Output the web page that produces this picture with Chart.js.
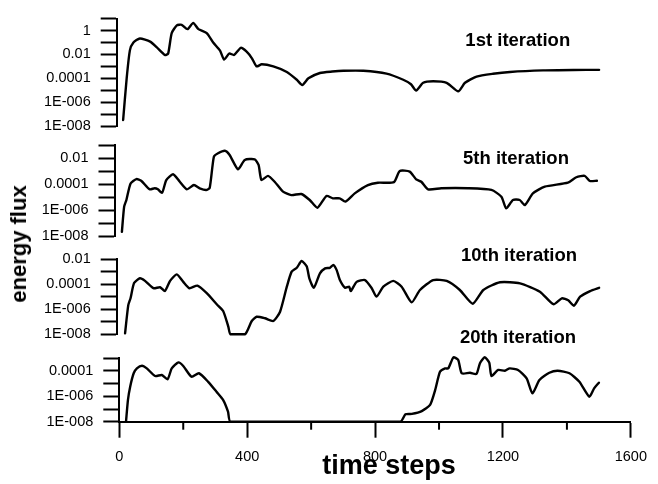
<!DOCTYPE html>
<html>
<head>
<meta charset="utf-8">
<script src="https://cdn.jsdelivr.net/npm/chart.js@4/dist/chart.umd.min.js"></script>
<style>
html,body{margin:0;padding:0;background:#fff;}
#wrap{position:relative;width:658px;height:484px;overflow:hidden;background:#fff;}
canvas{position:absolute;left:0;top:0;}
.txt{position:absolute;white-space:nowrap;font-family:"Liberation Sans",Arial,sans-serif;font-weight:bold;color:#000;}
</style>
</head>
<body>
<div id="wrap">
<canvas id="c1" width="658" height="484"></canvas>
<canvas id="c2" width="658" height="484"></canvas>
<canvas id="c3" width="658" height="484"></canvas>
<canvas id="c4" width="658" height="484"></canvas>
</div>
<script>
// ---- data (time steps / energy flux) ----
const panelTitles = ["1st iteration", "5th iteration", "10th iteration", "20th iteration"];
const xTickValues = [0, 400, 800, 1200, 1600];
const xMinorTicks = [200, 600, 1000, 1400];

const steps1 = [20,31,41,52,72,104,124,150,160,171,187,202,220,238,254,280,300,321,334,350,365,386,404,420,435,451,487,529,560,577,596,632,670,705,767,839,891,915,931,953,984,1026,1062,1083,1119,1170,1223,1326,1420,1500];
const flux1 = [3.2e-8,1.0e-4,2.2e-2,1.0e-1,2.2e-1,1.2e-1,4.2e-2,9.1e-3,1.2e-2,6.2e-1,2.75,3.1,1.33,4.5,1.33,0.62,0.10,2.2e-2,3.7e-3,1.2e-2,9.1e-3,3.6e-2,1.7e-2,5.0e-3,1.0e-3,1.5e-3,1.0e-3,3.4e-4,7.6e-5,2.75e-5,1.0e-4,2.8e-4,3.7e-4,4.3e-4,4.3e-4,2.5e-4,7.6e-5,3.2e-5,9.3e-6,4.2e-5,5.6e-5,4.2e-5,8.1e-6,4.2e-5,1.4e-4,2.4e-4,3.4e-4,4.6e-4,5.0e-4,5.1e-4];

const steps5 = [23,30,37,50,68,83,109,125,135,148,161,182,203,225,247,265,285,296,309,322,343,358,384,405,436,448,457,477,498,524,550,581,607,631,659,679,700,718,747,788,819,869,887,918,938,954,975,1016,1099,1172,1203,1218,1239,1260,1276,1301,1338,1410,1436,1462,1478,1500];
const flux5 = [2.1e-8,1.8e-6,5.9e-6,1.1e-4,2.4e-4,1.8e-4,3.9e-5,4.7e-5,3.9e-5,2.1e-5,2.0e-4,5.6e-4,1.5e-4,3.9e-5,8.3e-5,4.7e-5,3.5e-5,5.0e-5,1.26e-2,2.3e-2,3.6e-2,1.7e-2,1.35e-3,7.1e-3,7.9e-3,2.9e-3,2.0e-4,4.2e-4,1.5e-4,2.6e-5,1.4e-5,1.7e-5,5.9e-6,1.5e-6,1.2e-5,7.9e-6,7.9e-6,4.4e-6,1.9e-5,8.3e-5,1.26e-4,1.4e-4,1.0e-3,8.9e-4,2.3e-4,1.5e-4,3.9e-5,4.7e-5,4.7e-5,3.5e-5,1.05e-5,1.35e-6,5.9e-6,5.9e-6,2.4e-6,1.9e-5,6.2e-5,1.26e-4,3.3e-4,4.2e-4,1.7e-4,1.8e-4];

const steps10 = [26,36,43,54,72,88,114,135,150,166,187,207,226,251,280,311,331,347,354,399,420,435,461,487,508,529,544,560,575,591,599,613,632,648,663,674,684,694,710,723,728,746,772,793,808,829,860,886,917,943,984,1026,1067,1107,1140,1192,1254,1316,1358,1384,1404,1422,1441,1472,1500];
const flux10 = [1.2e-8,2.1e-6,7.4e-6,1.2e-4,2.9e-4,1.8e-4,4.7e-5,5.6e-5,2.8e-5,1.8e-4,6.0e-4,1.5e-4,4.7e-5,7.6e-5,1.9e-5,2.5e-6,7.2e-7,4.1e-8,1e-8,1e-8,1.15e-7,2.5e-7,1.9e-7,1.15e-7,6.3e-7,6.2e-5,9.8e-4,2.0e-3,6.9e-3,2.5e-3,2.9e-4,5.1e-5,7.2e-4,1.8e-3,2.0e-3,3.3e-3,1.3e-3,2.1e-4,5.1e-5,6.2e-5,2.8e-5,1.5e-4,2.1e-4,4.7e-5,1.0e-5,6.2e-5,1.8e-4,6.2e-5,3.5e-6,3.4e-5,2.1e-4,1.8e-4,3.4e-5,2.75e-6,3.4e-5,1.4e-4,1.15e-4,2.5e-5,2.5e-6,7.4e-6,5.1e-6,1.9e-6,1.0e-5,2.8e-5,5.1e-5];

const steps20 = [21,27,34,45,55,71,86,112,133,151,164,185,200,226,249,278,304,325,340,348,879,895,915,946,972,988,1003,1019,1029,1045,1060,1071,1097,1117,1128,1143,1157,1164,1185,1206,1221,1247,1274,1292,1314,1345,1371,1408,1439,1470,1485,1500];
const flux20 = [1e-8,5.1e-7,5.8e-6,6.6e-5,1.6e-4,2.6e-4,1.6e-4,4.0e-5,4.8e-5,2.2e-5,1.6e-4,4.8e-4,2.5e-4,3.5e-5,6.6e-5,1.4e-5,2.3e-6,5.1e-7,6.2e-8,1e-8,1e-8,3.8e-8,4.1e-8,6.9e-8,2.1e-7,3.2e-6,8.7e-5,1.6e-4,1.6e-4,1.2e-3,7.4e-4,6.6e-5,7.2e-5,5.8e-5,4.1e-4,1.2e-3,4.5e-4,4.0e-5,1.2e-4,1.05e-4,1.6e-4,1.2e-4,2.6e-5,1.7e-6,1.95e-5,7.2e-5,1.05e-4,6.6e-5,1.4e-5,9.3e-7,4.3e-6,1.2e-5];

// y-axis decade ranges (log10 exponents) per panel
const yExpMin = [-8, -8, -8, -8];
const yExpMax = [1, -1, -2, -3];

// ---- layout (pixels) ----
const FONT = '"Liberation Sans", Arial, sans-serif';
const panels = [
  {id:'c1', steps:steps1, flux:flux1, left:116.7, top:10.7, bottom:126.0, showX:false},
  {id:'c2', steps:steps5, flux:flux5, left:114.5, top:145.0, bottom:236.0, showX:false},
  {id:'c3', steps:steps10, flux:flux10, left:116.7, top:259.0, bottom:334.3, showX:false},
  {id:'c4', steps:steps20, flux:flux20, left:119.3, top:358.3, bottom:421.7, showX:true}
];
const PX_PER_STEP = 0.3216;
const Y_AXIS_W = 100;
const X_AXIS_H = 40;

function fmtLabel(v){
  const e = Math.round(Math.log10(v));
  if (e % 2 !== 0) return '';
  if (e >= -4) return e >= 0 ? String(Math.pow(10, e)) : (Math.pow(10, e)).toFixed(-e);
  return '1E-' + String(-e).padStart(3, '0');
}

const minorTickPlugin = {
  id: 'minorTicks',
  afterDraw(chart, args, opts){
    if (!opts || !opts.enabled) return;
    const xs = chart.scales.x, ctx = chart.ctx;
    ctx.save();
    ctx.strokeStyle = '#000';
    ctx.lineWidth = 2;
    xMinorTicks.forEach(v => {
      const px = xs.getPixelForValue(v);
      ctx.beginPath();
      ctx.moveTo(px, chart.chartArea.bottom);
      ctx.lineTo(px, chart.chartArea.bottom + 8);
      ctx.stroke();
    });
    ctx.restore();
  }
};

panels.forEach((p, i) => {
  const right = p.left + 1600 * PX_PER_STEP;
  const padBottom = p.showX ? 484 - p.bottom - X_AXIS_H : 484 - p.bottom;
  new Chart(document.getElementById(p.id), {
    type: 'line',
    data: {
      datasets: [{
        data: p.steps.map((t, k) => ({x: t, y: p.flux[k]})),
        borderColor: '#000',
        borderWidth: 2.4,
        pointRadius: 0,
        tension: 0.2,
        borderJoinStyle: 'round',
        borderCapStyle: 'round',
        clip: false
      }]
    },
    options: {
      responsive: false,
      animation: false,
      devicePixelRatio: 1,
      events: [],
      layout: {padding: {left: p.left - Y_AXIS_W, right: 658 - right, top: p.top, bottom: padBottom}},
      plugins: {legend: {display: false}, tooltip: {enabled: false}, title: {display: false},
        minorTicks: {enabled: p.showX}},
      scales: {
        x: {
          type: 'linear', min: 0, max: 1600,
          display: p.showX,
          afterFit: s => { s.height = p.showX ? X_AXIS_H : 0; },
          afterBuildTicks: s => { s.ticks = xTickValues.map(v => ({value: v})); },
          ticks: {font: {family: FONT, size: 14.5}, color: '#000', padding: 11, maxRotation: 0, autoSkip: false,
            callback: v => String(v)},
          grid: {display: true, drawOnChartArea: false, drawTicks: true, tickLength: 16, tickWidth: 2, tickColor: '#000'},
          border: {display: true, color: '#000', width: 2}
        },
        y: {
          type: 'logarithmic',
          min: Math.pow(10, yExpMin[i]), max: Math.pow(10, yExpMax[i]),
          afterFit: s => { s.width = Y_AXIS_W; },
          afterBuildTicks: s => {
            const t = [];
            for (let e = yExpMin[i]; e <= yExpMax[i]; e++) t.push({value: Math.pow(10, e)});
            s.ticks = t;
          },
          ticks: {font: {family: FONT, size: 14.5}, color: '#000', padding: 10, autoSkip: false,
            callback: v => fmtLabel(v)},
          grid: {display: true, drawOnChartArea: false, drawTicks: true, tickLength: 16, tickWidth: 2, tickColor: '#000'},
          border: {display: true, color: '#000', width: 2}
        }
      }
    },
    plugins: [minorTickPlugin]
  });
});

// ---- figure texts ----
const wrap = document.getElementById('wrap');
function addText(text, cx, baseline, size, rotate){
  const d = document.createElement('div');
  d.className = 'txt';
  d.textContent = text;
  d.style.fontSize = size + 'px';
  d.style.lineHeight = size + 'px';
  if (!rotate) {
    d.style.left = cx + 'px';
    d.style.top = (baseline - 0.8465 * size) + 'px';
    d.style.transform = 'translateX(-50%)';
  } else {
    d.style.left = cx + 'px';
    d.style.top = baseline + 'px';
    d.style.transform = 'translate(-50%,-50%) rotate(-90deg)';
  }
  wrap.appendChild(d);
}
const titlePos = [[517.8, 46.7], [516, 165], [519, 261.7], [518, 343.3]];
panelTitles.forEach((t, i) => addText(t, titlePos[i][0], titlePos[i][1], 18.5, false));
addText('time steps', 389, 475, 27, false);
addText('energy flux', 19, 244, 22, true);
</script>
</body>
</html>
